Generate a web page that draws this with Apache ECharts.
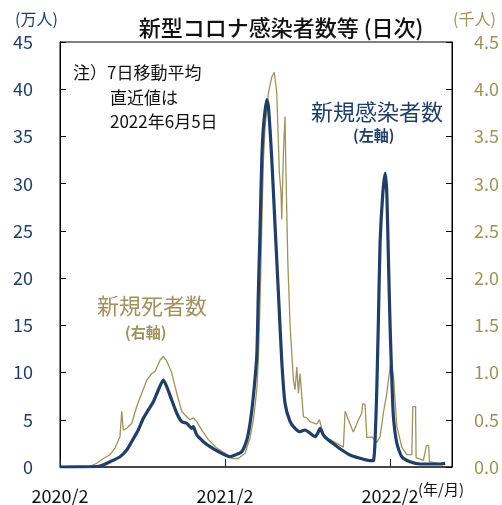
<!DOCTYPE html>
<html>
<head>
<meta charset="utf-8">
<script src="https://cdn.jsdelivr.net/npm/echarts@6/dist/echarts.min.js"></script>
<style>html,body{margin:0;padding:0;background:#fff;}#c{width:502px;height:505px;}</style>
</head>
<body>
<div id="c"></div>
<script>
// x = months since 2020/2
var xTickLabels = {0: '2020/2', 12: '2021/2', 24: '2022/2'};
var leftTicks = [0,5,10,15,20,25,30,35,40,45];
var rightTicks = [0.0,0.5,1.0,1.5,2.0,2.5,3.0,3.5,4.0,4.5];

// 新規感染者数 (7日移動平均, 万人)
var infMonth = [0,2.4,2.91,3.64,4.36,4.85,5.21,5.69,6.06,6.42,6.79,7.15,7.51,7.76,8.12,8.49,8.85,9.21,9.58,9.69,9.94,10.42,10.91,11.51,12.0,12.36,12.73,13.21,13.58,13.82,14.06,14.31,14.42,14.55,14.67,14.79,15.03,15.15,15.40,15.64,15.88,16.12,16.36,16.73,17.09,17.45,17.82,18.18,18.55,18.79,18.91,19.15,19.51,20.0,20.49,21.09,21.82,22.55,22.79,22.91,23.03,23.15,23.27,23.47,23.64,23.76,23.88,24.0,24.12,24.24,24.49,24.85,25.45,26.18,26.91,27.64,28.0];
var infValue = [0,0.03,0.1,0.56,1.09,1.8,2.68,3.92,5.16,6.04,6.91,8.15,9.21,8.5,7.09,5.69,4.8,4.63,4.1,4.27,3.39,2.68,2.15,1.62,1.27,1.09,1.27,1.62,2.86,4.63,7.5,11.9,18.4,25.4,32.5,36.0,38.9,38.2,32.5,25.4,18.4,11.3,6.75,4.8,4.1,3.74,3.92,3.57,3.21,3.74,4.1,3.39,2.86,2.33,1.8,1.27,0.92,0.67,0.69,2.86,8.15,15.6,23.7,29.0,31.1,29.0,21.9,14.86,9.56,5.33,2.51,1.09,0.56,0.32,0.32,0.32,0.39];

// 新規死者数 (千人)
var deathMonth = [0,2.06,2.67,3.15,3.64,4.0,4.36,4.49,4.6,4.85,5.21,5.58,5.94,6.31,6.67,6.91,7.27,7.51,7.76,8.12,8.49,8.85,9.09,9.21,9.45,9.69,9.94,10.31,10.79,11.4,12.0,12.49,12.97,13.45,13.82,14.06,14.31,14.42,14.55,14.67,14.79,14.91,15.15,15.4,15.58,15.76,15.95,16.07,16.12,16.17,16.24,16.36,16.41,16.56,16.73,16.97,17.09,17.22,17.33,17.45,17.58,17.7,17.94,18.18,18.67,18.86,19.03,19.27,19.64,20.12,20.6,20.73,20.85,20.97,21.21,21.33,21.7,21.94,22.01,22.18,22.31,22.67,23.03,23.27,23.51,23.76,24.05,24.24,24.49,24.85,25.21,25.58,25.65,25.85,25.89,26.42,26.64,26.8,26.86,27.4,28.0];
var deathValue = [0,0.0,0.04,0.09,0.13,0.2,0.32,0.59,0.39,0.41,0.46,0.64,0.78,0.92,0.99,1.01,1.13,1.17,1.12,1.0,0.78,0.59,0.55,0.57,0.5,0.52,0.48,0.39,0.29,0.2,0.145,0.09,0.09,0.145,0.31,0.5,0.82,1.13,1.77,2.54,3.25,3.6,3.96,4.13,4.18,3.96,3.11,2.9,2.62,2.9,3.32,3.71,3.25,2.19,1.49,0.92,0.82,1.06,0.78,0.99,0.99,0.53,0.52,0.48,0.455,0.5,0.41,0.3,0.29,0.25,0.21,0.59,0.59,0.5,0.41,0.37,0.5,0.57,0.67,0.66,0.31,0.32,0.26,0.32,0.57,0.78,1.115,0.97,0.43,0.21,0.13,0.13,0.64,0.64,0.1,0.07,0.23,0.23,0.056,0.04,0.026];

var NAVY = '#213E66';
var GOLD = '#A0925C';
var FONT = '"Noto Sans CJK JP", "Noto Sans", sans-serif';

function zip(a, b) { return a.map(function (v, i) { return [v, b[i]]; }); }

var chart = echarts.init(document.getElementById('c'), null, {renderer: 'canvas'});
chart.setOption({
  animation: false,
  textStyle: {fontFamily: FONT},
  grid: {left: 60, right: 50, top: 42, bottom: 38, show: true, borderColor: '#000', borderWidth: 1, containLabel: false},
  title: {
    text: '新型コロナ感染者数等 (日次)', left: 276, top: 12, textAlign: 'center',
    textStyle: {fontSize: 22, fontWeight: 500, color: '#111', fontFamily: FONT}
  },
  xAxis: {
    type: 'value', min: 0, max: 28.5, interval: 12,
    axisLine: {show: true, lineStyle: {color: '#333', width: 1.5}},
    axisTick: {show: true, inside: true, length: 8, lineStyle: {color: '#222'}},
    splitLine: {show: false},
    axisLabel: {
      showMaxLabel: false, margin: 20, fontSize: 18, color: '#111', fontFamily: FONT,
      formatter: function (v) { return xTickLabels[v] || ''; }
    }
  },
  yAxis: [{
    type: 'value', min: leftTicks[0], max: leftTicks[leftTicks.length - 1], interval: 5,
    axisLine: {show: true, lineStyle: {color: '#000'}},
    axisTick: {show: true, inside: true, length: 6, lineStyle: {color: '#000'}},
    splitLine: {show: false},
    axisLabel: {margin: 27, fontSize: 18, color: NAVY, fontFamily: FONT,
      formatter: function (v) { return String(v); }}
  }, {
    type: 'value', min: rightTicks[0], max: rightTicks[rightTicks.length - 1], interval: 0.5,
    position: 'right',
    axisLine: {show: true, lineStyle: {color: '#000'}},
    axisTick: {show: true, inside: true, length: 6, lineStyle: {color: '#000'}},
    splitLine: {show: false},
    axisLabel: {margin: 22, fontSize: 18, color: GOLD, fontFamily: FONT,
      formatter: function (v) { return v.toFixed(1); }}
  }],
  series: [{
    name: '新規死者数', type: 'line', yAxisIndex: 1, data: zip(deathMonth, deathValue),
    showSymbol: false, smooth: false, lineStyle: {color: GOLD, width: 1.3}, z: 2
  }, {
    name: '新規感染者数', type: 'line', yAxisIndex: 0, data: zip(infMonth, infValue),
    showSymbol: false, smooth: 0.2, lineStyle: {color: NAVY, width: 3.2}, z: 3
  }],
  graphic: [
    {type: 'text', left: 15, top: 11, style: {text: '(万人)', fontSize: 16, fill: NAVY, fontFamily: FONT}},
    {type: 'text', left: 453, top: 11, style: {text: '(千人)', fontSize: 16, fill: GOLD, fontFamily: FONT}},
    {type: 'text', left: 418, top: 482, style: {text: '(年/月)', fontSize: 15, fill: '#111', fontFamily: FONT}},
    {type: 'text', left: 73, top: 64, style: {text: '注）7日移動平均', fontSize: 17, fill: '#111', fontFamily: FONT}},
    {type: 'text', left: 110, top: 89, style: {text: '直近値は', fontSize: 17, fill: '#111', fontFamily: FONT}},
    {type: 'text', left: 110, top: 113, style: {text: '2022年6月5日', fontSize: 17, fill: '#111', fontFamily: FONT}},
    {type: 'text', left: 311, top: 101, style: {text: '新規感染者数', fontSize: 22, fill: NAVY, fontFamily: FONT}},
    {type: 'text', left: 353, top: 128, style: {text: '(左軸)', fontSize: 15, fontWeight: 'bold', fill: NAVY, fontFamily: FONT}},
    {type: 'text', left: 97, top: 295, style: {text: '新規死者数', fontSize: 22, fill: GOLD, fontFamily: FONT}},
    {type: 'text', left: 125, top: 325, style: {text: '(右軸)', fontSize: 15, fontWeight: 'bold', fill: GOLD, fontFamily: FONT}}
  ]
});
</script>
</body>
</html>
